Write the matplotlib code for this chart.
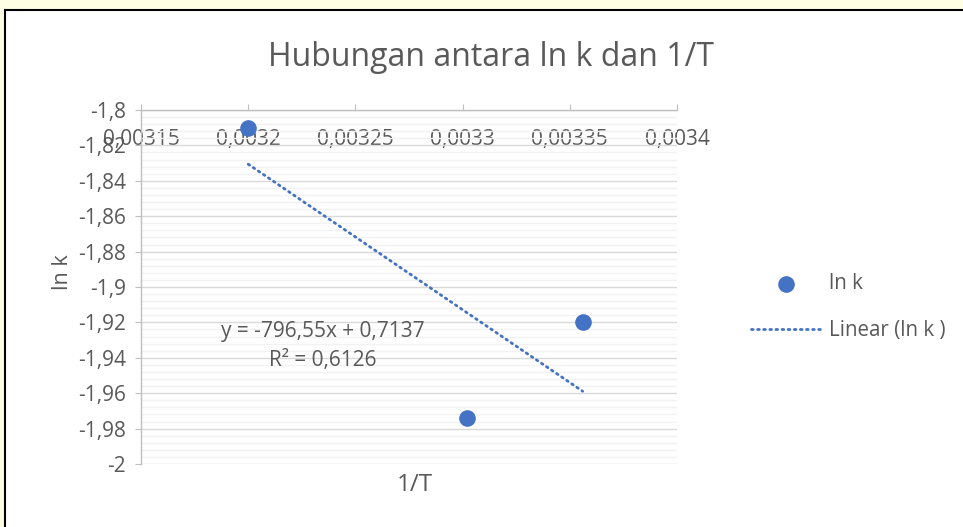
import numpy as np
import matplotlib
matplotlib.use("Agg")
import matplotlib.pyplot as plt
from matplotlib.patches import Rectangle
from matplotlib.ticker import MultipleLocator, FuncFormatter
from matplotlib.lines import Line2D

plt.rcParams['font.family'] = ['Open Sans', 'DejaVu Sans']

# data
inv_T = [0.0032, 0.003302, 0.003356]
ln_k = [-1.810, -1.974, -1.920]
x_ticks = [0.00315, 0.0032, 0.00325, 0.0033, 0.00335, 0.0034]
y_ticks = [-1.8, -1.82, -1.84, -1.86, -1.88, -1.9, -1.92, -1.94, -1.96, -1.98, -2.0]
title = "Hubungan antara ln k dan 1/T"
eq_text = "y = -796,55x + 0,7137\nR² = 0,6126"

TXT = "#595959"
BLUE = "#4472C4"

fig = plt.figure(figsize=(9.63, 5.27), dpi=100)
fig.patch.set_facecolor("#FEFEE4")
W, H = 963, 527
# white chart area with black border (top/left)
fig.patches.append(Rectangle((5 / W, 0), 1, 1 - 10 / H, transform=fig.transFigure,
                             facecolor="white", edgecolor="none", zorder=-10))
fig.lines.append(Line2D([5 / W, 5 / W], [0, 1 - 10 / H], transform=fig.transFigure,
                        color="black", lw=1.5, zorder=-5))
fig.lines.append(Line2D([5 / W, 1], [1 - 10 / H, 1 - 10 / H], transform=fig.transFigure,
                        color="black", lw=1.5, zorder=-5))

ax = fig.add_axes([141 / W, 1 - 464 / H, (677 - 141) / W, (464 - 110) / H])
ax.set_facecolor("none")
ax.set_xlim(0.00315, 0.0034)
ax.set_ylim(-2.0, -1.8)

ax.set_xticks(x_ticks)
ax.set_yticks(y_ticks)
ax.yaxis.set_minor_locator(MultipleLocator(0.004))
fmt = lambda v, p: ("%g" % v).replace(".", ",")
ax.xaxis.set_major_formatter(FuncFormatter(lambda v, p: ("%.5f" % v).rstrip("0").replace(".", ",")))
ax.yaxis.set_major_formatter(FuncFormatter(fmt))

ax.grid(axis="y", which="major", color="#D9D9D9", lw=1.0)
ax.grid(axis="y", which="minor", color="#F2F2F2", lw=1.0)
ax.set_axisbelow(True)

for s in ["right", "bottom"]:
    ax.spines[s].set_visible(False)
for s in ["left", "top"]:
    ax.spines[s].set_color("#BFBFBF")
    ax.spines[s].set_linewidth(1.0)

ax.tick_params(axis="x", which="both", top=True, bottom=False, labeltop=True, labelbottom=False,
               direction="out", length=4, color="#BFBFBF", labelcolor=TXT, labelsize=15, pad=-33)
ax.tick_params(axis="y", which="major", direction="out", length=4, color="#BFBFBF",
               labelcolor=TXT, labelsize=15, pad=7)
ax.tick_params(axis="y", which="minor", length=0)

ax.scatter(inv_T, ln_k, s=120, color=BLUE, zorder=3, label="ln k")
coef = np.polyfit(inv_T, ln_k, 1)
xs = np.array([min(inv_T), max(inv_T)])
ax.plot(xs, np.polyval(coef, xs), color=BLUE, lw=2.0, linestyle=(0, (0.6, 1.6)),
        dash_capstyle="round", zorder=2, label="Linear (ln k )")

fig.text(491 / W, 1 - 58 / H, title, ha="center", va="center", fontsize=23, color=TXT)
fig.text(323 / W, 1 - 346 / H, eq_text, ha="center", va="center", fontsize=15,
         color=TXT, linespacing=1.45)
fig.text(415 / W, 1 - 485 / H, "1/T", ha="center", va="center", fontsize=17.5, color=TXT)
fig.text(62 / W, 1 - 272 / H, "ln k", ha="center", va="center", fontsize=15.5, color=TXT,
         rotation=90)

leg = ax.legend(loc="center left", bbox_to_anchor=(751 / W, 1 - 307 / H),
                bbox_transform=fig.transFigure, frameon=False, fontsize=14.8,
                handlelength=3.4, handletextpad=0.4, labelspacing=1.25, labelcolor=TXT,
                borderpad=0, borderaxespad=0)

fig.savefig("out.png", dpi=100, facecolor=fig.get_facecolor())
